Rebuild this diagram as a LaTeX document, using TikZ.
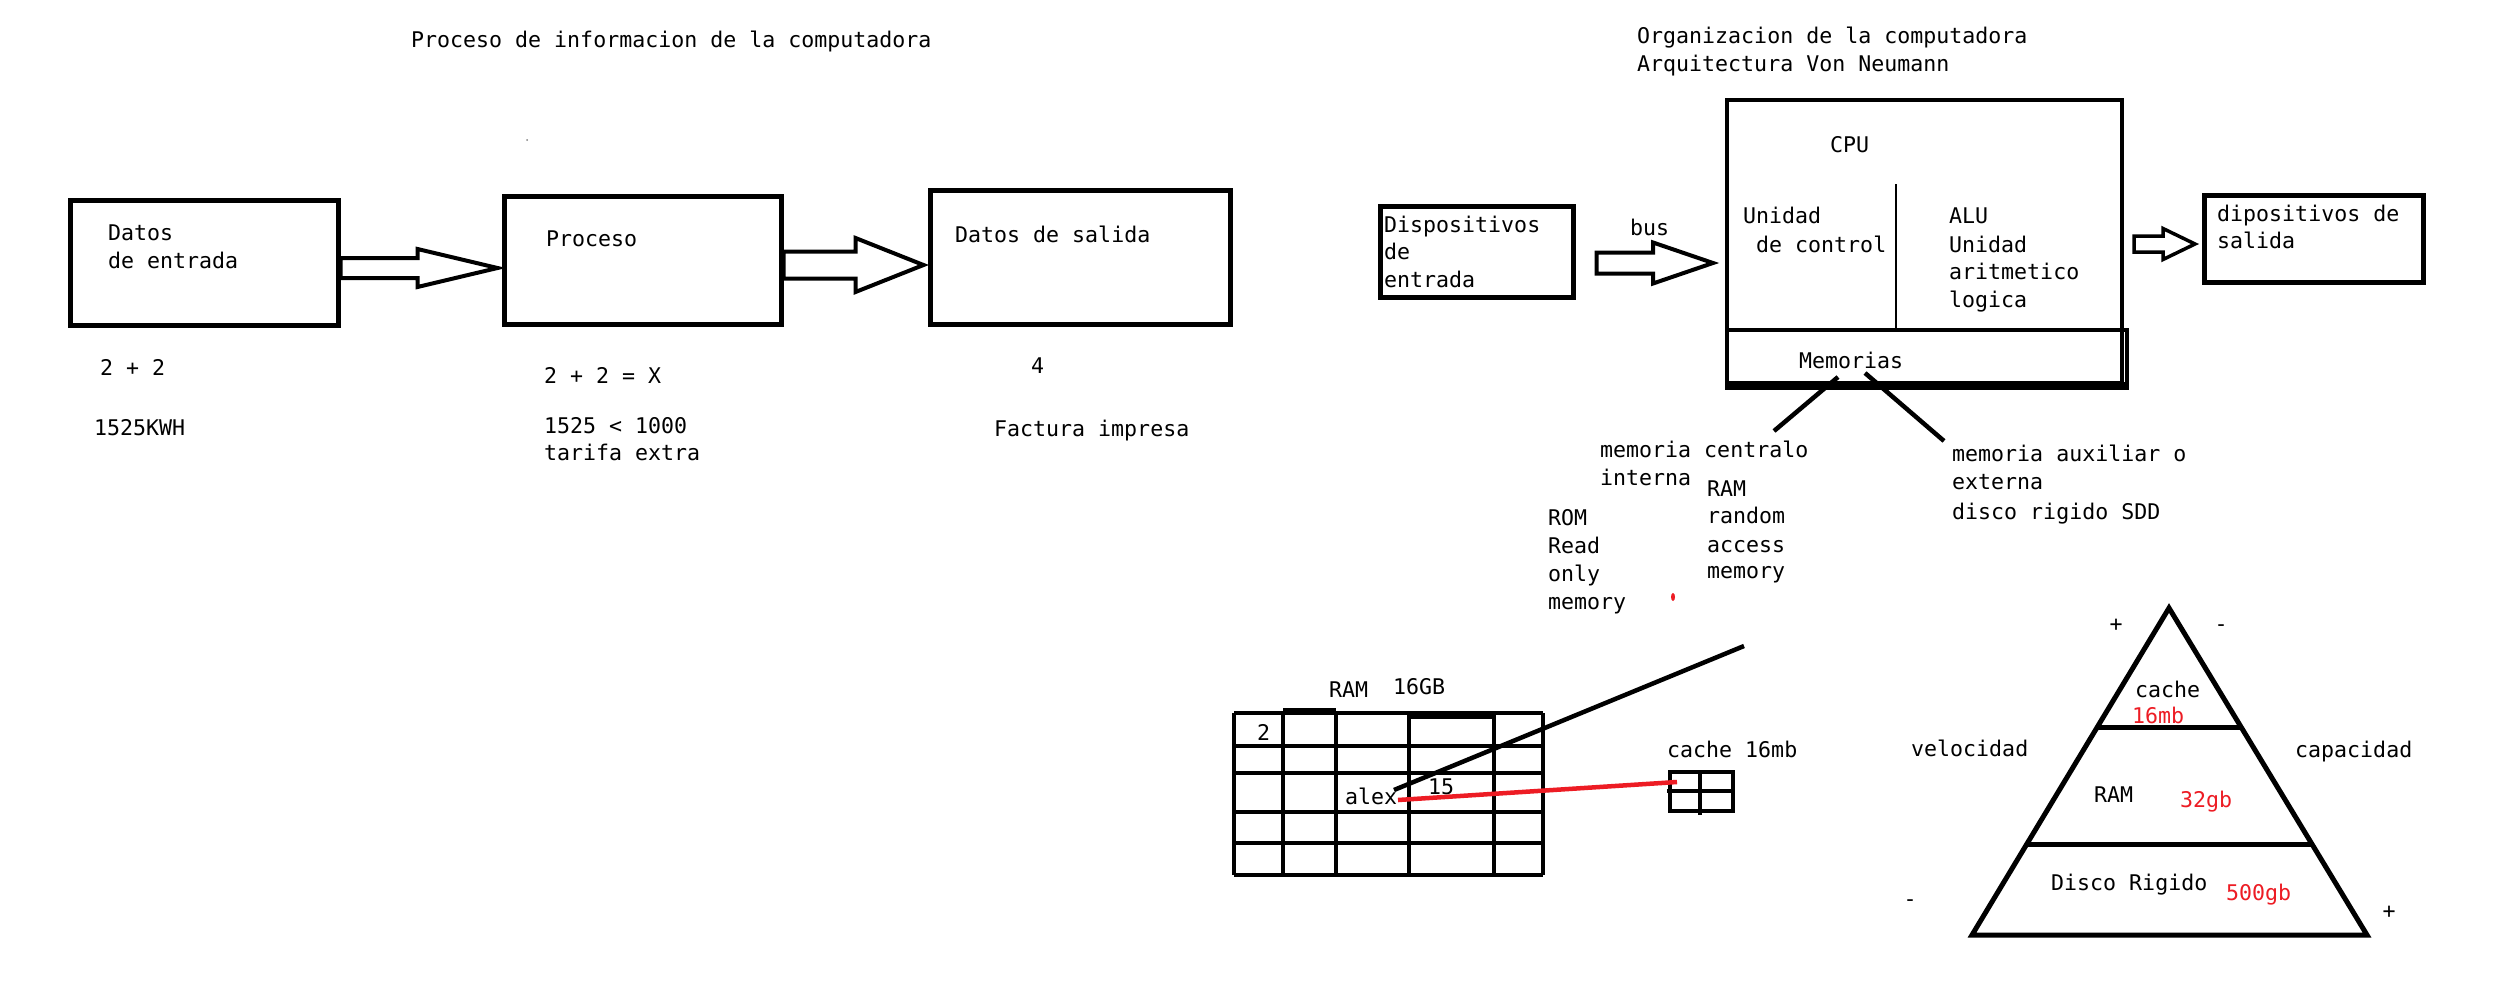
\documentclass[tikz,border=0pt]{standalone}
\usepackage{fontspec}
\setmonofont{DejaVu Sans Mono}
\usetikzlibrary{calc}
\definecolor{pred}{HTML}{ED1C24}
\newcommand{\blockarr}[6]{%
  \draw[line width=#6] let \p1=(#1), \p2=(#2) in
    (\x1,\y1+#3) -- (\x2-#5,\y1+#3) -- (\x2-#5,\y1+#4) -- (\x2,\y1)
    -- (\x2-#5,\y1-#4) -- (\x2-#5,\y1-#3) -- (\x1,\y1-#3) -- cycle;}
\begin{document}
\begin{tikzpicture}[x=1pt,y=-1pt,
  txt/.style={anchor=base west, inner sep=0pt, font=\ttfamily\fontsize{21.6}{26}\selectfont},
  rtxt/.style={txt, text=pred},
  box/.style={draw, line width=5pt, inner sep=0pt},
  thin/.style={line width=4.5pt}]
\fill[white] (0,0) rectangle (2516,980);
\useasboundingbox (0,0) rectangle (2516,980);

% ---------- left: proceso ----------
\node[txt] (t1) at (411,47) {Proceso de informacion de la computadora};
\fill[gray] (527,140) circle (1pt);
\node[box, minimum width=268pt, minimum height=125pt] (b1) at (204,262.5) {};
\node[box, minimum width=277pt, minimum height=128pt] (b2) at (642.5,260) {};
\node[box, minimum width=300pt, minimum height=134pt] (b3) at (1080,257) {};
\node[txt] (b1a) at (108,240) {Datos};
\node[txt] (b1b) at (108,268) {de entrada};
\node[txt] (b2a) at (546,246) {Proceso};
\node[txt] (b3a) at (955,242) {Datos de salida};
\coordinate (a1s) at ($(b1.east)+(0,5.5)$);
\coordinate (a1t) at ($(b2.west)+(-4,0)$);
\blockarr{a1s}{a1t}{10pt}{19pt}{80pt}{4pt}
\coordinate (a2s) at ($(b2.east)+(0,5)$);
\coordinate (a2t) at ($(b3.west)+(-4,0)$);
\blockarr{a2s}{a2t}{13.5pt}{27pt}{68pt}{4pt}
\node[txt] (e1) at (100,375) {2 + 2};
\node[txt] (e2) at (94,435) {1525KWH};
\node[txt] (p1) at (544,383) {2 + 2 = X};
\node[txt] (p2) at (544,433) {1525 < 1000};
\node[txt] (p3) at (544,460) {tarifa extra};
\node[txt] (s1) at (1031,373) {4};
\node[txt] (s2) at (994,436) {Factura impresa};

% ---------- right: organizacion ----------
\node[txt] (o1) at (1637,43) {Organizacion de la computadora};
\node[txt] (o2) at (1637,71) {Arquitectura Von Neumann};
\node[box, line width=4pt, minimum width=395pt, minimum height=283pt] (cpu) at (1924.5,241.5) {};
\node[box, line width=4pt, minimum width=400pt, minimum height=54pt] (mem) at (1927,357) {};
\draw[line width=8pt] (mem.south west) -- (mem.south east);
\coordinate (dv) at (1896,184);
\draw[line width=2.5pt] (dv) -- (dv |- mem.north);
\node[txt] (cput) at (1830,152) {CPU};
\node[txt] (uc1) at (1743,223) {Unidad};
\node[txt] (uc2) at (1756,252) {de control};
\node[txt] (al1) at (1949,223) {ALU};
\node[txt] (al2) at (1949,252) {Unidad};
\node[txt] (al3) at (1949,279) {aritmetico};
\node[txt] (al4) at (1949,307) {logica};
\node[txt] (memt) at (1799,368) {Memorias};
\node[box, minimum width=193pt, minimum height=91pt] (dev) at (1476.5,251.5) {};
\node[txt] (d1) at (1384,232) {Dispositivos};
\node[txt] (d2) at (1384,259) {de};
\node[txt] (d3) at (1384,287) {entrada};
\node[txt] (bus) at (1630,235) {bus};
\coordinate (bs) at ($(dev.east)+(21,11.5)$);
\coordinate (bt) at ($(cpu.west)+(-12,0)$);
\blockarr{bs}{bt}{10.5pt}{20.5pt}{60pt}{4pt}
\node[box, minimum width=219pt, minimum height=87pt] (out) at (2314,239) {};
\node[txt] (ou1) at (2217,221) {dipositivos de};
\node[txt] (ou2) at (2217,248) {salida};
\coordinate (os) at ($(cpu.east)+(10,2.5)$);
\coordinate (ot) at ($(out.west)+(-7,0)$);
\blockarr{os}{ot}{8pt}{15.5pt}{32pt}{3.5pt}

% memory branches
\coordinate (m1) at (1838,377);
\coordinate (l1) at (1774,431);
\coordinate (m2) at (1865,373);
\coordinate (l2) at (1944,441);
\draw[thin] (m1) -- (l1);
\draw[thin] (m2) -- (l2);
\node[txt] (mc1) at (1600,457) {memoria centralo};
\node[txt] (mc2) at (1600,485) {interna};
\node[txt] (ra1) at (1707,496) {RAM};
\node[txt] (ra2) at (1707,523) {random};
\node[txt] (ra3) at (1707,552) {access};
\node[txt] (ra4) at (1707,578) {memory};
\node[txt] (ro1) at (1548,525) {ROM};
\node[txt] (ro2) at (1548,553) {Read};
\node[txt] (ro3) at (1548,581) {only};
\node[txt] (ro4) at (1548,609) {memory};
\node[txt] (ax1) at (1952,461) {memoria auxiliar o};
\node[txt] (ax2) at (1952,489) {externa};
\node[txt] (ax3) at (1952,519) {disco rigido SDD};
\fill[pred] (1673,597) ellipse (2pt and 4pt);

% ---------- RAM grid ----------
\node[txt] (rl1) at (1329,697) {RAM};
\node[txt] (rl2) at (1393,694) {16GB};
\foreach \x in {1234,1283,1336,1409,1494,1543} \draw[thin] (\x,713) -- (\x,875);
\foreach \y in {713,746,773,812,843,875} \draw[thin] (1234,\y) -- (1543,\y);
\draw[thin] (1283,710) -- (1336,710);
\draw[line width=6pt] (1409,716) -- (1494,716);
\node[txt] (g2) at (1257,740) {2};
\node[txt] (ga) at (1345,804) {alex};
\node[txt] (g15) at (1428,794) {15};
\coordinate (lt) at (1744,646);
\coordinate (lb) at (1394,790);
\draw[thin] (lt) -- (lb);

% cache grid
\node[txt] (cl) at (1667,757) {cache 16mb};
\draw[line width=4pt] (1670,772) rectangle (1733,811);
\draw[line width=4pt] (1700,772) -- (1700,815);
\draw[line width=4pt] (1667,791) -- (1733,791);
\coordinate (rs) at (1398,800);
\coordinate (re) at (1677,782);
\draw[line width=4.5pt, pred] (rs) -- (re);

% ---------- pyramid ----------
\coordinate (pa) at (2169,608);
\coordinate (pl) at (1972,935);
\coordinate (pr) at (2367,935);
\draw[line width=5pt, line join=miter] (pa) -- (pr) -- (pl) -- cycle;
\draw[line width=5pt] (2098,727) -- (2240,727);
\draw[line width=5pt] (2027,844) -- (2312,844);
\node[txt, anchor=center] (pp1) at (2116,625) {+};
\node[txt, anchor=center] (pm1) at (2221,628) {-};
\node[txt] (pc) at (2135,697) {cache};
\node[rtxt] (pc2) at (2132,723) {16mb};
\node[txt] (vel) at (1911,756) {velocidad};
\node[txt] (cap) at (2295,757) {capacidad};
\node[txt] (pram) at (2094,802) {RAM};
\node[rtxt] (p32) at (2180,807) {32gb};
\node[txt] (pd) at (2051,890) {Disco Rigido};
\node[rtxt] (p500) at (2226,900) {500gb};
\node[txt, anchor=center] (pm2) at (1910,903) {-};
\node[txt, anchor=center] (pp2) at (2389,912) {+};
\end{tikzpicture}
\end{document}
